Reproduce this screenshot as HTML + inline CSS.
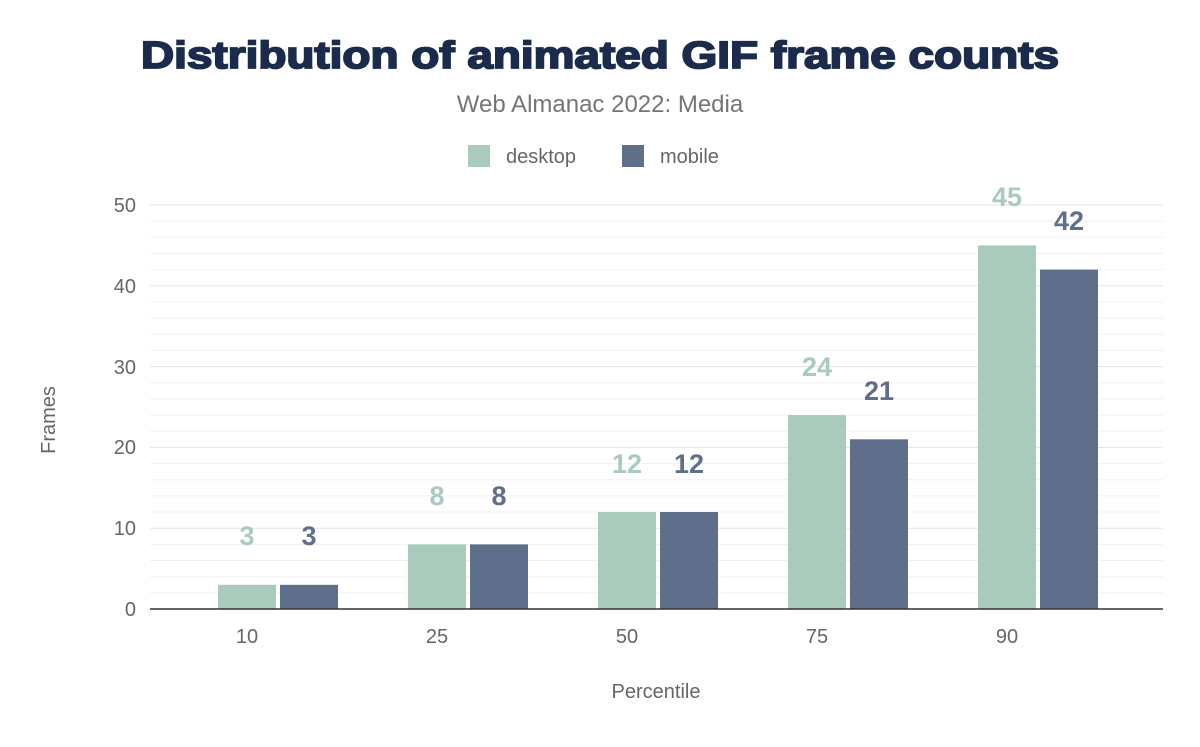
<!DOCTYPE html>
<html><head><meta charset="utf-8"><style>
body{margin:0;background:#fff;}
</style></head><body>
<svg width="1200" height="742" xmlns="http://www.w3.org/2000/svg" font-family="Liberation Sans, Arial, sans-serif">
<rect width="1200" height="742" fill="#fff"/>
<text x="600" y="68" text-anchor="middle" font-size="38" font-weight="900" fill="#1a2b4b" stroke="#1a2b4b" stroke-width="1.8" textLength="918" lengthAdjust="spacingAndGlyphs">Distribution of animated GIF frame counts</text>
<text x="600" y="112" text-anchor="middle" font-size="24" fill="#757575">Web Almanac 2022: Media</text>
<rect x="468" y="145" width="22" height="22" fill="#a8cbbb"/>
<text x="506" y="163" font-size="20" fill="#666">desktop</text>
<rect x="622" y="145" width="22" height="22" fill="#5f6e8a"/>
<text x="660" y="163" font-size="20" fill="#666">mobile</text>
<g stroke="#f0f0f0" stroke-width="1">
<line x1="150" x2="1163" y1="592.8" y2="592.8"/><line x1="150" x2="1163" y1="576.7" y2="576.7"/><line x1="150" x2="1163" y1="560.5" y2="560.5"/><line x1="150" x2="1163" y1="544.4" y2="544.4"/>
<line x1="150" x2="1163" y1="512" y2="512"/><line x1="150" x2="1163" y1="495.9" y2="495.9"/><line x1="150" x2="1163" y1="479.7" y2="479.7"/><line x1="150" x2="1163" y1="463.6" y2="463.6"/>
<line x1="150" x2="1163" y1="431.2" y2="431.2"/><line x1="150" x2="1163" y1="415.1" y2="415.1"/><line x1="150" x2="1163" y1="398.9" y2="398.9"/><line x1="150" x2="1163" y1="382.8" y2="382.8"/>
<line x1="150" x2="1163" y1="350.4" y2="350.4"/><line x1="150" x2="1163" y1="334.3" y2="334.3"/><line x1="150" x2="1163" y1="318.1" y2="318.1"/><line x1="150" x2="1163" y1="302" y2="302"/>
<line x1="150" x2="1163" y1="269.6" y2="269.6"/><line x1="150" x2="1163" y1="253.5" y2="253.5"/><line x1="150" x2="1163" y1="237.3" y2="237.3"/><line x1="150" x2="1163" y1="221.2" y2="221.2"/>
</g>
<g stroke="#e3e3e3" stroke-width="1">
<line x1="150" x2="1163" y1="528.2" y2="528.2"/><line x1="150" x2="1163" y1="447.4" y2="447.4"/><line x1="150" x2="1163" y1="366.6" y2="366.6"/><line x1="150" x2="1163" y1="285.8" y2="285.8"/><line x1="150" x2="1163" y1="205" y2="205"/>
</g>
<g font-size="20" fill="#666" text-anchor="end">
<text x="136" y="616">0</text><text x="136" y="535">10</text><text x="136" y="454">20</text><text x="136" y="374">30</text><text x="136" y="293">40</text><text x="136" y="212">50</text>
</g>
<g fill="#a8cbbb">
<rect x="218" y="584.8" width="58" height="24.2"/>
<rect x="408" y="544.4" width="58" height="64.6"/>
<rect x="598" y="512" width="58" height="97"/>
<rect x="788" y="415.1" width="58" height="193.9"/>
<rect x="978" y="245.4" width="58" height="363.6"/>
</g>
<g fill="#5f6e8a">
<rect x="280" y="584.8" width="58" height="24.2"/>
<rect x="470" y="544.4" width="58" height="64.6"/>
<rect x="660" y="512" width="58" height="97"/>
<rect x="850" y="439.3" width="58" height="169.7"/>
<rect x="1040" y="269.6" width="58" height="339.4"/>
</g>
<line x1="150" x2="1163" y1="609" y2="609" stroke="#333" stroke-width="1.5"/>
<g font-size="27" font-weight="bold" text-anchor="middle" fill="#a8cbbb">
<text x="247" y="545">3</text><text x="437" y="505">8</text><text x="627" y="473">12</text><text x="817" y="376">24</text><text x="1007" y="206">45</text>
</g>
<g font-size="27" font-weight="bold" text-anchor="middle" fill="#5f6e8a">
<text x="309" y="545">3</text><text x="499" y="505">8</text><text x="689" y="473">12</text><text x="879" y="400">21</text><text x="1069" y="230">42</text>
</g>
<g font-size="20" fill="#666" text-anchor="middle">
<text x="247" y="643">10</text><text x="437" y="643">25</text><text x="627" y="643">50</text><text x="817" y="643">75</text><text x="1007" y="643">90</text>
<text x="656" y="698">Percentile</text>
<text transform="translate(55,420) rotate(-90)">Frames</text>
</g>
</svg>
</body></html>
